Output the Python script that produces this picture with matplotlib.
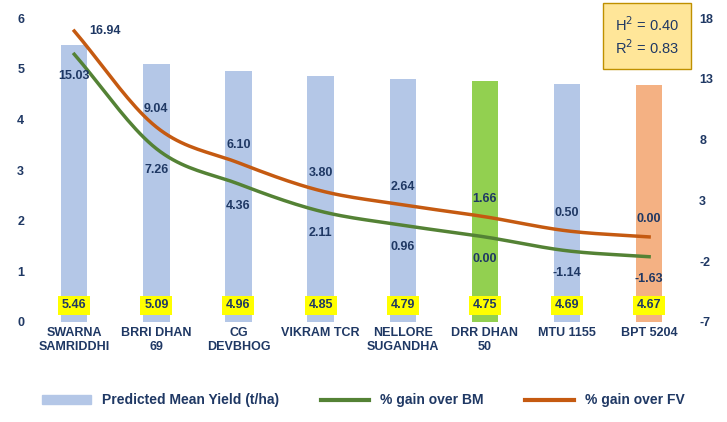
import numpy as np
import matplotlib.pyplot as plt
from matplotlib.patches import Patch
from matplotlib.lines import Line2D

plt.rcParams['axes.unicode_minus'] = False
plt.rcParams['font.family'] = ['Liberation Sans', 'DejaVu Sans']

categories = ['SWARNA\nSAMRIDDHI', 'BRRI DHAN\n69', 'CG\nDEVBHOG', 'VIKRAM TCR',
              'NELLORE\nSUGANDHA', 'DRR DHAN\n50', 'MTU 1155', 'BPT 5204']
yield_vals = [5.46, 5.09, 4.96, 4.85, 4.79, 4.75, 4.69, 4.67]
gain_bm = [15.03, 7.26, 4.36, 2.11, 0.96, 0.00, -1.14, -1.63]
gain_fv = [16.94, 9.04, 6.10, 3.80, 2.64, 1.66, 0.50, 0.00]
bar_colors = ['#B4C7E7'] * 5 + ['#92D050', '#B4C7E7', '#F4B183']

BM_COL = '#548235'
FV_COL = '#C55A11'
TXT = '#1F3864'
FS = 9


def smooth(x, y, n=20):
    # catmull-rom through the points, for the curved lines
    x = np.asarray(x, float); y = np.asarray(y, float)
    px = np.concatenate([[2*x[0]-x[1]], x, [2*x[-1]-x[-2]]])
    py = np.concatenate([[2*y[0]-y[1]], y, [2*y[-1]-y[-2]]])
    xs, ys = [], []
    for i in range(1, len(px) - 2):
        t = np.linspace(0, 1, n, endpoint=False)
        for p, out in ((px, xs), (py, ys)):
            p0, p1, p2, p3 = p[i-1], p[i], p[i+1], p[i+2]
            out.extend(0.5*((2*p1) + (-p0+p2)*t + (2*p0-5*p1+4*p2-p3)*t**2 + (-p0+3*p1-3*p2+p3)*t**3))
    xs.append(x[-1]); ys.append(y[-1])
    return np.array(xs), np.array(ys)


fig = plt.figure(figsize=(7.27, 4.22), dpi=100)
ax = fig.add_axes([0.04, 0.237, 0.915, 0.72])
x = np.arange(len(categories))
ax.bar(x, yield_vals, width=0.32, color=bar_colors)
ax.set_ylim(0, 6)
ax.set_xlim(-0.55, len(categories) - 0.45)
ax.set_yticks(range(7))
ax.set_xticks(x)
ax.set_xticklabels(categories, fontsize=FS, fontweight='bold', color=TXT)
ax.tick_params(length=0, labelsize=FS, labelcolor=TXT)
for lab in ax.get_yticklabels():
    lab.set_fontweight('bold')
for s in ax.spines.values():
    s.set_visible(False)
for xi, v in zip(x, yield_vals):
    ax.text(xi, 0.33, f'{v:.2f}', ha='center', va='center', fontsize=FS, fontweight='bold',
            color=TXT, bbox=dict(boxstyle='square,pad=0.3', fc='#FFFF00', ec='none'))

ax2 = ax.twinx()
ax2.set_ylim(-7, 18)
ax2.set_yticks([-7, -2, 3, 8, 13, 18])
ax2.tick_params(length=0, labelsize=FS, labelcolor=TXT)
for lab in ax2.get_yticklabels():
    lab.set_fontweight('bold')
for s in ax2.spines.values():
    s.set_visible(False)
sx, sy = smooth(x, gain_bm)
ax2.plot(sx, sy, color=BM_COL, lw=2.5)
sx, sy = smooth(x, gain_fv)
ax2.plot(sx, sy, color=FV_COL, lw=2.5)
for xi, v in zip(x, gain_bm):
    ax2.text(xi, v - 1.3, f'{v:.2f}', ha='center', va='top', fontsize=FS, fontweight='bold', color=TXT)
for i, (xi, v) in enumerate(zip(x, gain_fv)):
    if i == 0:
        ax2.text(xi + 0.18, v, f'{v:.2f}', ha='left', va='center', fontsize=FS, fontweight='bold', color=TXT)
    else:
        ax2.text(xi, v + 1.0, f'{v:.2f}', ha='center', va='bottom', fontsize=FS, fontweight='bold', color=TXT)

fig.text(0.89, 0.915, 'H$^2$ = 0.40\nR$^2$ = 0.83', ha='center', va='center', fontsize=10.5,
         color=TXT, linespacing=1.3,
         bbox=dict(boxstyle='square,pad=0.8', fc='#FFE699', ec='#BF9000'))

handles = [Patch(color='#B4C7E7', label='Predicted Mean Yield (t/ha)'),
           Line2D([], [], color=BM_COL, lw=3, label='% gain over BM'),
           Line2D([], [], color=FV_COL, lw=3, label='% gain over FV')]
leg = fig.legend(handles=handles, loc='lower center', bbox_to_anchor=(0.5, 0.005), ncol=3,
                 frameon=False, prop=dict(size=10, weight='bold'), columnspacing=3, handlelength=3.5)
for t in leg.get_texts():
    t.set_color(TXT)

fig.savefig('out.png', dpi=100)
